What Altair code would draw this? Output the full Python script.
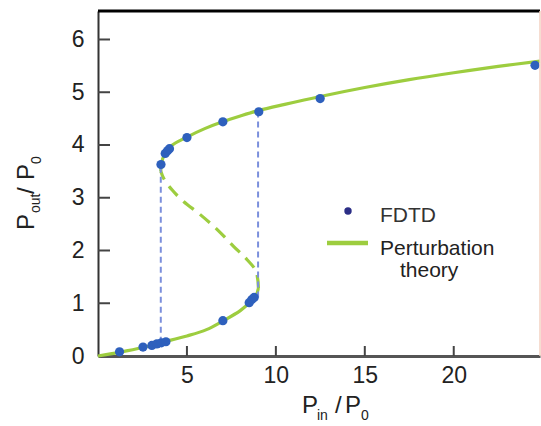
import altair as alt
import pandas as pd

# ---- data ----
fdtd_x = [1.21, 2.53, 3.03, 3.31, 3.56, 3.82, 7.02, 8.50, 8.65, 8.78,
          3.54, 3.78, 3.91, 4.02, 5.00, 7.02, 9.04, 12.49, 24.57]
fdtd_y = [0.08, 0.17, 0.20, 0.23, 0.25, 0.27, 0.67, 1.01, 1.07, 1.11,
          3.63, 3.84, 3.89, 3.93, 4.14, 4.44, 4.63, 4.88, 5.51]

lower_x = [0.0, 1.2, 2.5, 3.5, 5.0, 6.1, 7.0, 8.0, 8.6, 8.9, 9.02]
lower_y = [0.0, 0.07, 0.16, 0.25, 0.38, 0.50, 0.66, 0.86, 1.04, 1.16, 1.29]

middle_x = [9.02, 8.88, 8.37, 7.62, 6.69, 5.75, 4.81, 4.16, 3.69, 3.53]
middle_y = [1.29, 1.61, 1.83, 2.08, 2.40, 2.68, 2.93, 3.15, 3.37, 3.50]

upper_x = [3.53, 3.56, 3.75, 4.1, 5.0, 6.0, 7.0, 8.0, 9.0, 10.5, 12.5,
           15.0, 17.5, 20.0, 22.5, 24.85]
upper_y = [3.50, 3.64, 3.83, 3.98, 4.15, 4.31, 4.44, 4.55, 4.65, 4.77, 4.92,
           5.09, 5.24, 5.37, 5.49, 5.59]

jump_x = [3.53, 9.0]
jump_lo = [0.25, 1.11]
jump_hi = [3.63, 4.63]

x_ticks = [5, 10, 15, 20]
y_ticks = [1, 2, 3, 4, 5, 6]

# ---- styling ----
FONT = "Liberation Sans"
GREEN = "#9dcd3f"
BLUE = "#2e60bd"
JUMP = "#7b8fdc"
W, H = 442, 345

xs = alt.Scale(domain=[0, 24.85], nice=False, zero=False)
ys = alt.Scale(domain=[0, 6.54], nice=False, zero=False)

xaxis = alt.Axis(title="", values=x_ticks, ticks=False, grid=False,
                 domainColor="#555555", domainWidth=3,
                 labelFontSize=23, labelFont=FONT, labelColor="#222222",
                 labelPadding=8)
yaxis = alt.Axis(title="", values=[0] + y_ticks, ticks=False, grid=False,
                 domainColor="#333333", domainWidth=2,
                 labelFontSize=23, labelFont=FONT, labelColor="#222222",
                 labelPadding=14)


def X(f):
    return alt.X(f, type="quantitative", scale=xs, axis=xaxis)


def Y(f):
    return alt.Y(f, type="quantitative", scale=ys, axis=yaxis)


def branch(xv, yv):
    return pd.DataFrame({"x": xv, "y": yv, "i": list(range(len(xv)))})


lower = alt.Chart(branch(lower_x, lower_y)).mark_line(
    color=GREEN, strokeWidth=3.2, interpolate="catmull-rom"
).encode(x=X("x"), y=Y("y"), order="i:Q")

middle = alt.Chart(branch(middle_x, middle_y)).mark_line(
    color=GREEN, strokeWidth=3.2, strokeDash=[13, 8], interpolate="catmull-rom"
).encode(x=X("x"), y=Y("y"), order="i:Q")

upper = alt.Chart(branch(upper_x, upper_y)).mark_line(
    color=GREEN, strokeWidth=3.2, interpolate="catmull-rom"
).encode(x=X("x"), y=Y("y"), order="i:Q")

jumps = alt.Chart(pd.DataFrame({"x": jump_x, "lo": jump_lo, "hi": jump_hi})).mark_rule(
    color=JUMP, strokeWidth=2, strokeDash=[6, 4]
).encode(x=X("x"), y=Y("lo"), y2="hi")

dots = alt.Chart(pd.DataFrame({"x": fdtd_x, "y": fdtd_y})).mark_circle(
    color=BLUE, size=85, opacity=1
).encode(x=X("x"), y=Y("y"))

xtick_layer = alt.Chart(pd.DataFrame({"t": x_ticks})).mark_rule(
    color="#444444", strokeWidth=2
).encode(x=X("t"), y=alt.value(H), y2=alt.value(H - 10))

ytick_layer = alt.Chart(pd.DataFrame({"t": y_ticks})).mark_rule(
    color="#444444", strokeWidth=2
).encode(y=Y("t"), x=alt.value(0), x2=alt.value(12))

one = pd.DataFrame({"a": [0]})

top_border = alt.Chart(one).mark_rule(color="#000000", strokeWidth=3).encode(
    x=alt.value(0), x2=alt.value(W), y=alt.value(0))
right_border = alt.Chart(one).mark_rule(color="#f3d2c2", strokeWidth=1.5).encode(
    x=alt.value(W), y=alt.value(0), y2=alt.value(H))


def txt(s, x, y, size, angle=0, color="#222222"):
    kw = dict(text=s, font=FONT, fontSize=size, color=color,
              align="left", baseline="alphabetic")
    if angle:
        kw["angle"] = angle
    return alt.Chart(one).mark_text(**kw).encode(x=alt.value(x), y=alt.value(y))


# axis titles built from pieces (subscripts)
x_title = [
    txt("P", 204, 402, 24),
    txt("in", 219, 409, 14),
    txt("/", 237, 402, 24),
    txt("P", 247, 402, 24),
    txt("0", 263, 409, 14),
]
y_title = [
    txt("P", -64, 219, 24, angle=270),
    txt("out", -58, 202, 14, angle=270),
    txt("/", -64, 183, 24, angle=270),
    txt("P", -64, 169, 24, angle=270),
    txt("0", -57, 153, 14, angle=270),
]

# legend
leg_dot = alt.Chart(one).mark_circle(color="#2b2e86", size=55, opacity=1).encode(
    x=alt.value(250), y=alt.value(200))
leg_line = alt.Chart(one).mark_rule(color=GREEN, strokeWidth=4.5).encode(
    x=alt.value(229), x2=alt.value(270), y=alt.value(232))
legend = [
    leg_dot, leg_line,
    txt("FDTD", 282, 211, 21, color="#333333"),
    txt("Perturbation", 282, 244, 21, color="#222222"),
    txt("theory", 302, 266, 21, color="#222222"),
]

chart = alt.layer(
    lower, middle, upper, jumps, dots, xtick_layer, ytick_layer,
    top_border, right_border, *x_title, *y_title, *legend
).properties(
    width=W, height=H,
    autosize=alt.AutoSizeParams(type="none"),
    padding={"left": 98, "top": 11, "right": 1, "bottom": 70},
    background="white",
).configure_view(strokeWidth=0)

chart.save("out.html", embed_options={"renderer": "svg", "actions": False})
